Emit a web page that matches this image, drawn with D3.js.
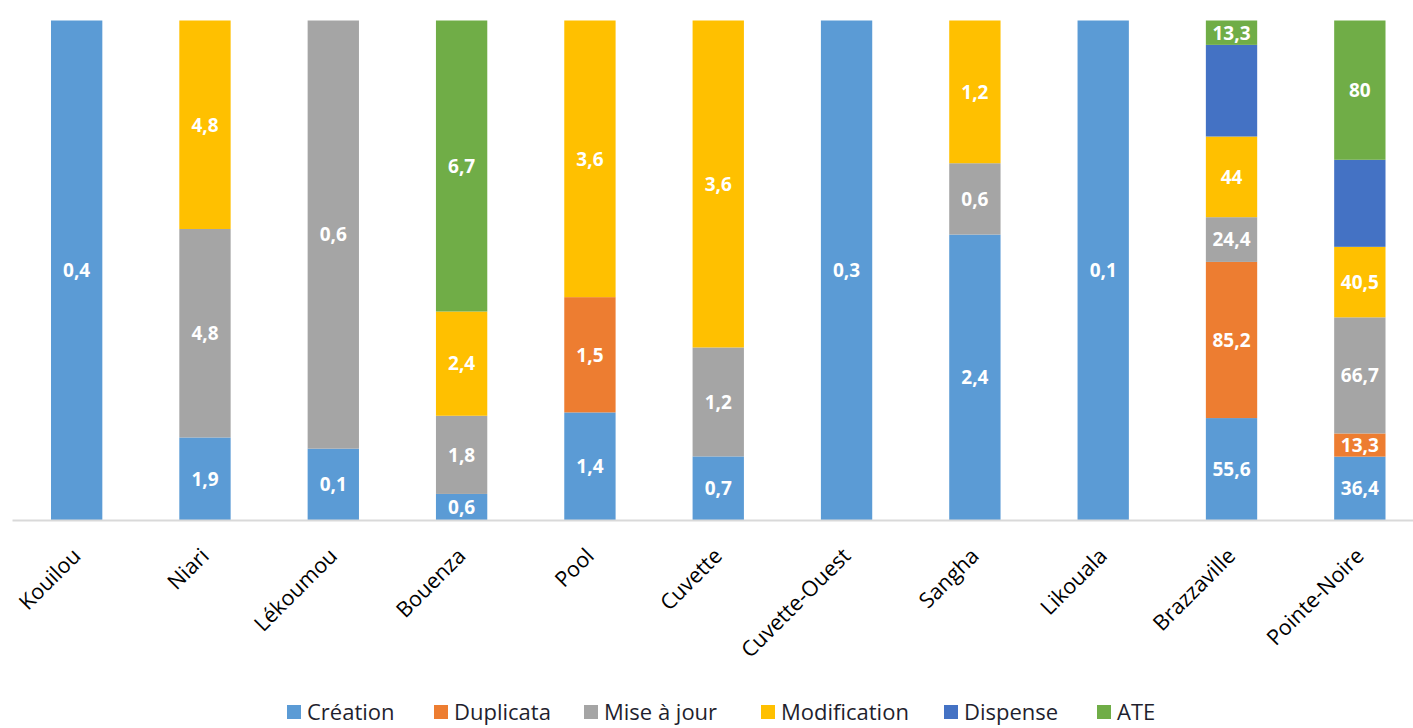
<!DOCTYPE html>
<html>
<meta charset="utf-8">
<script src="https://d3js.org/d3.v7.min.js"></script>
<style>
  body { margin: 0; background: #fff; }
  .lbl { font-family: "Open Sans", "Noto Sans", sans-serif; font-weight: 700; fill: #fff; }
  .cat { font-family: "Open Sans", "Noto Sans", sans-serif; fill: #000; }
  .leg { font-family: "Open Sans", "Noto Sans", sans-serif; fill: #1f1f2e; }
</style>
<body>
<div id="vis"></div>
<script>

var categories = ["Kouilou", "Niari", "Lékoumou", "Bouenza", "Pool", "Cuvette",
                  "Cuvette-Ouest", "Sangha", "Likouala", "Brazzaville", "Pointe-Noire"];

var seriesNames = ["Création", "Duplicata", "Mise à jour", "Modification", "Dispense", "ATE"];
var seriesColors = ["#5B9BD5", "#ED7D31", "#A5A5A5", "#FFC000", "#4472C4", "#70AD47"];

var creation     = [0.4, 1.9, 0.1, 0.6, 1.4, 0.7, 0.3, 2.4, 0.1, 55.6, 36.4];
var duplicata    = [0,   0,   0,   0,   1.5, 0,   0,   0,   0,   85.2, 13.3];
var miseAJour    = [0,   4.8, 0.6, 1.8, 0,   1.2, 0,   0.6, 0,   24.4, 66.7];
var modification = [0,   4.8, 0,   2.4, 3.6, 3.6, 0,   1.2, 0,   44,   40.5];
var dispense     = [0,   0,   0,   0,   0,   0,   0,   0,   0,   50,   50];   // no labels shown
var ate          = [0,   0,   0,   6.7, 0,   0,   0,   0,   0,   13.3, 80];

var seriesValues = [creation, duplicata, miseAJour, modification, dispense, ate];
var labelled = [true, true, true, true, false, true];

var W = 1413, H = 728;
var plotTop = 20.5, plotBase = 520;

var svg = d3.select("#vis").append("svg")
  .attr("width", W).attr("height", H);

// rows for the stack
var rows = categories.map(function(c, i) {
  var r = { cat: c };
  seriesNames.forEach(function(s, j) { r[s] = seriesValues[j][i]; });
  return r;
});

var stacked = d3.stack().keys(seriesNames).offset(d3.stackOffsetExpand)(rows);

var x = d3.scaleBand().domain(categories)
  .range([12.5, 1424])
  .paddingInner(0.6).paddingOuter(0.3);

var y = d3.scaleLinear().domain([0, 1]).range([plotBase, plotTop]);

// bars
var layer = svg.selectAll("g.layer").data(stacked).enter().append("g")
  .attr("class", "layer")
  .attr("fill", function(d, i) { return seriesColors[i]; });

layer.selectAll("rect").data(function(d) { return d; }).enter().append("rect")
  .attr("x", function(d) { return x(d.data.cat); })
  .attr("width", x.bandwidth())
  .attr("y", function(d) { return y(d[1]); })
  .attr("height", function(d) { return y(d[0]) - y(d[1]); });

// data labels
stacked.forEach(function(s, i) {
  if (!labelled[i]) return;
  svg.append("g").selectAll("text")
    .data(s.filter(function(d) { return d.data[s.key] > 0; }))
    .enter().append("text")
      .attr("class", "lbl")
      .attr("x", function(d) { return x(d.data.cat) + x.bandwidth() / 2; })
      .attr("y", function(d) { return (y(d[0]) + y(d[1])) / 2; })
      .attr("dy", "0.36em")
      .attr("text-anchor", "middle")
      .style("font-size", "19px")
      .text(function(d) { return String(d.data[s.key]).replace(".", ","); });
});

// x axis
var xAxis = svg.append("g")
  .attr("transform", "translate(0," + plotBase + ")")
  .call(d3.axisBottom(x).tickSize(0).tickPadding(0));
xAxis.select(".domain").attr("stroke", "#d9d9d9").attr("stroke-width", 2)
  .attr("d", "M12.5,0.5H1413");
xAxis.selectAll(".tick text")
  .attr("class", "cat")
  .style("font-size", "21.5px")
  .attr("text-anchor", "end")
  .attr("y", 0).attr("dy", "0.35em")
  .attr("transform", "translate(0,32) rotate(-45)");

// legend
var legX = [287, 434, 584, 761, 944, 1097];
var leg = svg.append("g").selectAll("g").data(seriesNames).enter().append("g")
  .attr("transform", function(d, i) { return "translate(" + legX[i] + ",712)"; });
leg.append("rect").attr("x", 0).attr("y", -7).attr("width", 14).attr("height", 14)
  .attr("fill", function(d, i) { return seriesColors[i]; });
leg.append("text").attr("class", "leg")
  .attr("x", 20).attr("dy", "0.36em")
  .style("font-size", "22px")
  .text(function(d) { return d; });

</script>
</body>
</html>
